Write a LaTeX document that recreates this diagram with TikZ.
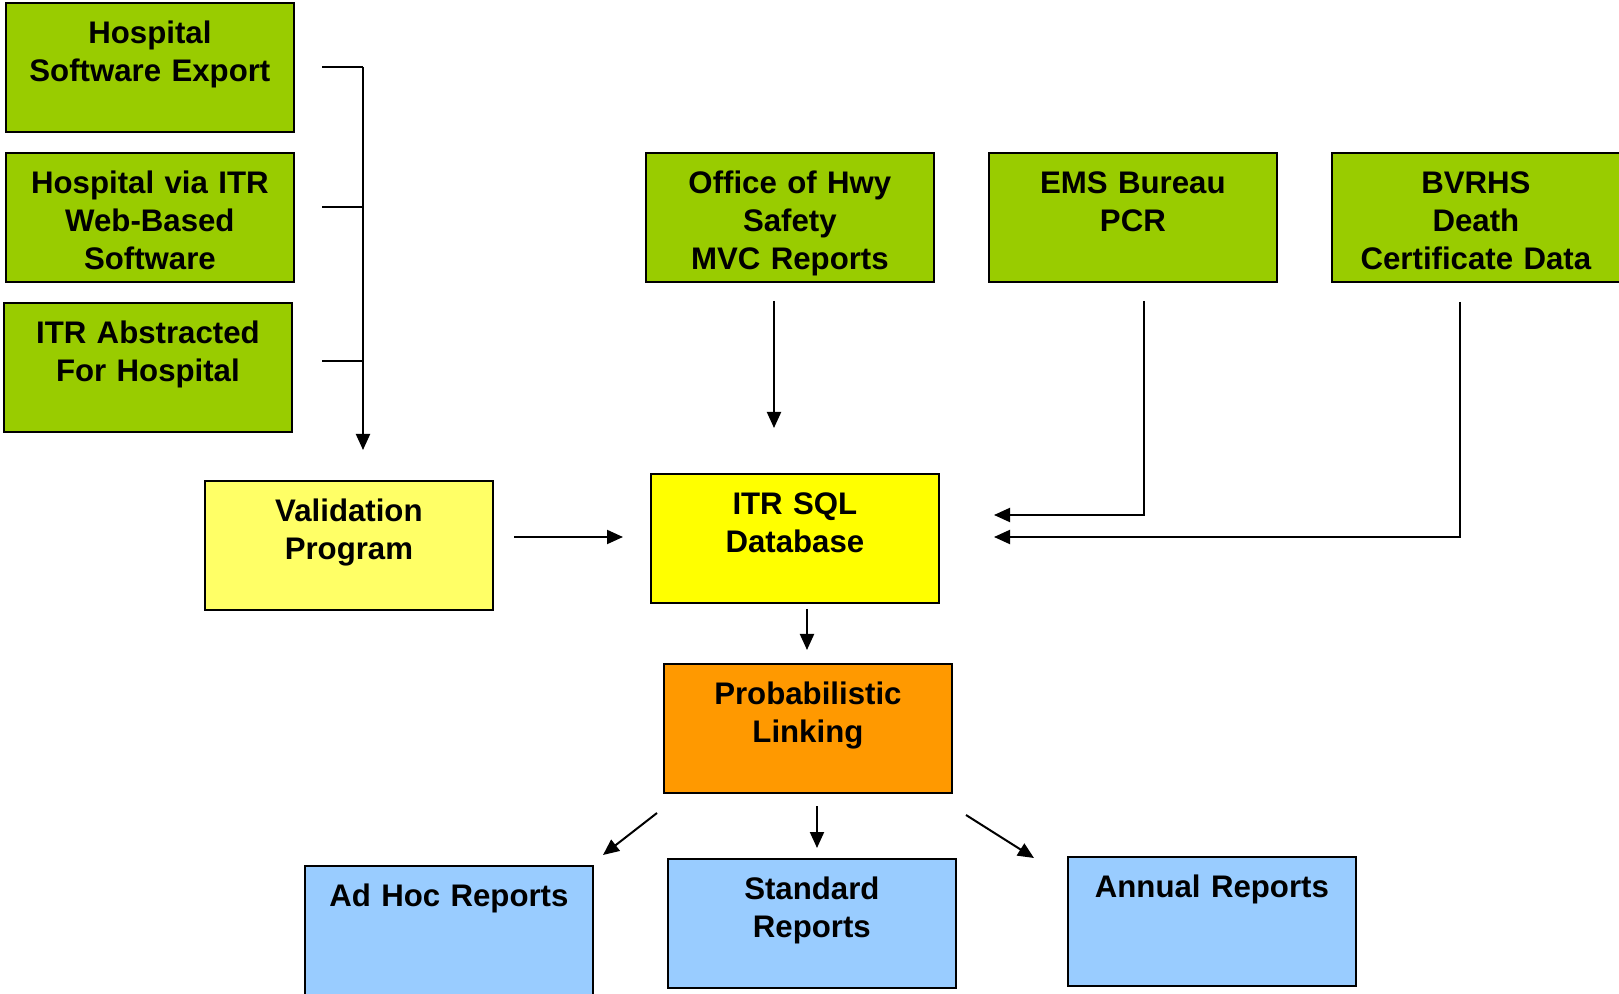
\documentclass[tikz,border=0pt]{standalone}
\usepackage{fontspec}
\setmainfont{Liberation Sans}
\usetikzlibrary{arrows.meta}
\definecolor{srcgreen}{HTML}{99CC00}
\definecolor{valyellow}{HTML}{FFFF66}
\definecolor{dbyellow}{HTML}{FFFF00}
\definecolor{linkorange}{HTML}{FF9900}
\definecolor{repblue}{HTML}{99CCFF}
\begin{document}
\begin{tikzpicture}[x=0.5pt,y=-0.5pt,
    box/.style={draw, line width=0.9pt, inner sep=0pt, anchor=north west,
        text width=144pt, align=center, text height=20.3pt, text depth=44.2pt,
        font=\fontsize{15.6}{19}\selectfont\bfseries},
    wire/.style={line width=1pt},
    link/.style={line width=1pt, -{Triangle[length=8pt,width=7pt]}}]
\useasboundingbox (0,0) rectangle (1619,994);
%sources
    \node[box, fill=srcgreen] (hospexp) at (5,2) {Hospital\\Software Export};
    \node[box, fill=srcgreen] (hospweb) at (5,152) {Hospital via ITR\\Web-Based\\Software};
    \node[box, fill=srcgreen] (itrabs) at (3,302) {ITR Abstracted\\For Hospital};
    \node[box, fill=srcgreen] (hwysafety) at (645,152) {Office of Hwy\\Safety\\MVC Reports};
    \node[box, fill=srcgreen] (emspcr) at (988,152) {EMS Bureau\\PCR};
    \node[box, fill=srcgreen] (bvrhs) at (1331,152) {BVRHS\\Death\\Certificate Data};
%processing
    \node[box, fill=valyellow] (validation) at (204,480) {Validation\\Program};
    \node[box, fill=dbyellow] (sqldb) at (650,473) {ITR SQL\\Database};
    \node[box, fill=linkorange] (problink) at (663,663) {Probabilistic\\Linking};
%reports
    \node[box, fill=repblue] (adhoc) at (304,865) {Ad Hoc Reports};
    \node[box, fill=repblue] (standard) at (667,858) {Standard\\Reports};
    \node[box, fill=repblue] (annual) at (1067,856) {Annual Reports};
%connector ends
    \coordinate (hospexp-out) at (322,67);
    \coordinate (hospweb-out) at (322,207);
    \coordinate (itrabs-out) at (322,361);
    \coordinate (bus-top) at (363,67);
    \coordinate (bus-end) at (363,450);
    \coordinate (hwy-out) at (774,301);
    \coordinate (hwy-in) at (774,428);
    \coordinate (ems-out) at (1144,301);
    \coordinate (ems-in) at (994,515);
    \coordinate (bvrhs-out) at (1460,302);
    \coordinate (bvrhs-in) at (994,537);
    \coordinate (val-out) at (514,537);
    \coordinate (val-in) at (623,537);
    \coordinate (db-out) at (807,609);
    \coordinate (db-in) at (807,650);
    \coordinate (adhoc-out) at (657,813);
    \coordinate (adhoc-in) at (603,855);
    \coordinate (std-out) at (817,806);
    \coordinate (std-in) at (817,848);
    \coordinate (annual-out) at (966,815);
    \coordinate (annual-in) at (1034,858);
%connectors
    \draw[wire] (hospexp-out) -- (bus-top);
    \draw[wire] (hospweb-out) -- (hospweb-out -| bus-top);
    \draw[wire] (itrabs-out) -- (itrabs-out -| bus-top);
    \draw[link] (bus-top) -- (bus-end);
    \draw[link] (hwy-out) -- (hwy-in);
    \draw[link] (ems-out) |- (ems-in);
    \draw[link] (bvrhs-out) |- (bvrhs-in);
    \draw[link] (val-out) -- (val-in);
    \draw[link] (db-out) -- (db-in);
    \draw[link] (adhoc-out) -- (adhoc-in);
    \draw[link] (std-out) -- (std-in);
    \draw[link] (annual-out) -- (annual-in);
\end{tikzpicture}
\end{document}
